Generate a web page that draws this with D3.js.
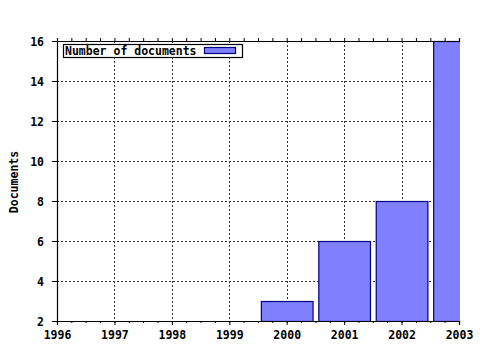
<!DOCTYPE html>
<html>
<head>
<meta charset="utf-8">
<script src="https://cdn.jsdelivr.net/npm/d3@7"></script>
<style>
  body { margin: 0; background: #fff; }
  text { font-family: "DejaVu Sans Mono", monospace; font-weight: bold; font-size: 11.5px; fill: #000; }
</style>
</head>
<body>
<svg width="480" height="350"></svg>
<script>
// data
let years = [2000, 2001, 2002, 2003];
let docs = [3, 6, 8, 16];
let xTicks = [1996, 1997, 1998, 1999, 2000, 2001, 2002, 2003];
let yTicks = [2, 4, 6, 8, 10, 12, 14, 16];
let seriesName = 'Number of documents';

let plotLeft = 57, plotRight = 459, plotTop = 41, plotBottom = 321;

let svg = d3.select('svg');

let x = d3.scaleLinear().domain([1996, 2003]).range([plotLeft, plotRight]);
let y = d3.scaleLinear().domain([2, 16]).range([plotBottom, plotTop]);

let step = x(1997) - x(1996);
let barW = step * 0.9;

// grid
let grid = svg.append('g')
              .attr('stroke', '#333')
              .attr('stroke-dasharray', '2,2')
              .attr('shape-rendering', 'crispEdges');

grid.selectAll('line.v')
    .data(xTicks.slice(1, -1))
    .enter()
    .append('line')
    .attr('x1', d => Math.round(x(d)) + 0.5)
    .attr('x2', d => Math.round(x(d)) + 0.5)
    .attr('y1', plotTop)
    .attr('y2', plotBottom);

grid.selectAll('line.h')
    .data(yTicks.slice(1, -1))
    .enter()
    .append('line')
    .attr('y1', d => Math.round(y(d)) + 0.5)
    .attr('y2', d => Math.round(y(d)) + 0.5)
    .attr('x1', plotLeft)
    .attr('x2', plotRight);

// bars, clipped to plot area
svg.append('clipPath')
   .attr('id', 'plot')
   .append('rect')
   .attr('x', plotLeft)
   .attr('y', plotTop - 1)
   .attr('width', plotRight - plotLeft + 1)
   .attr('height', plotBottom - plotTop + 2);

svg.append('g')
   .attr('clip-path', 'url(#plot)')
   .selectAll('rect')
   .data(years)
   .enter()
   .append('rect')
   .attr('x', d => x(d) - barW / 2 + 0.5)
   .attr('width', barW)
   .attr('y', (d, i) => y(docs[i]) + 0.5)
   .attr('height', (d, i) => y(2) - y(docs[i]))
   .attr('fill', '#8080ff')
   .attr('stroke', '#000080')
   .attr('stroke-width', 1.2);

// axes
let minor = d3.range(1996, 2003.001, 0.25);

let xAxis = d3.axisBottom(x).tickValues(xTicks).tickFormat(d3.format('d')).tickSize(4).tickPadding(6);
let xMinor = d3.axisBottom(x).tickValues(minor).tickFormat('').tickSize(2);
let xTop = d3.axisTop(x).tickValues(minor).tickFormat('').tickSize(3);
let yAxis = d3.axisLeft(y).tickValues(yTicks).tickSize(5).tickPadding(8);

svg.append('g').attr('transform', `translate(0,${plotBottom})`).call(xMinor);
svg.append('g').attr('class', 'xaxis').attr('transform', `translate(0,${plotBottom})`).call(xAxis);
svg.append('g').attr('transform', `translate(0,${plotTop})`).call(xTop);
svg.append('g').attr('class', 'yaxis').attr('transform', `translate(${plotLeft},0)`).call(yAxis);

svg.selectAll('.domain').attr('stroke', '#000').attr('stroke-width', 1.2);
svg.selectAll('.tick line').attr('stroke', '#000');
svg.selectAll('.tick text').attr('font-family', null).attr('font-size', null).attr('fill', '#000');
svg.selectAll('.xaxis .tick text').attr('dy', '0.71em');
svg.selectAll('.yaxis .tick text').attr('dy', '0.4em');

// y title
svg.append('text')
   .attr('transform', 'translate(14,182) rotate(-90)')
   .attr('text-anchor', 'middle')
   .attr('dy', '0.35em')
   .text('Documents');

// legend
let legend = svg.append('g');
legend.append('rect')
      .attr('x', 63.5)
      .attr('y', 44.5)
      .attr('width', 179)
      .attr('height', 13)
      .attr('fill', '#fff')
      .attr('stroke', '#000')
      .attr('stroke-width', 1.2);
legend.append('text')
      .attr('x', 65)
      .attr('y', 55)
      .text(seriesName);
legend.append('rect')
      .attr('x', 204.5)
      .attr('y', 47.5)
      .attr('width', 31)
      .attr('height', 6)
      .attr('fill', '#8080ff')
      .attr('stroke', '#000080')
      .attr('stroke-width', 1.2);
</script>
</body>
</html>
